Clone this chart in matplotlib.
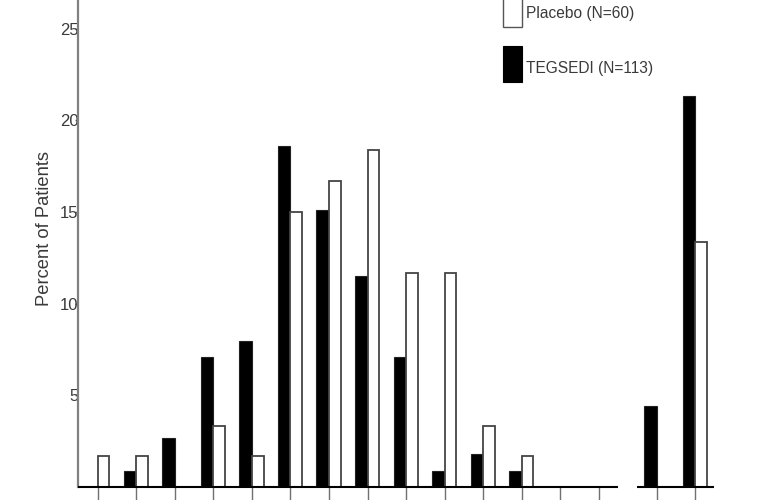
import numpy as np
import matplotlib
matplotlib.use("Agg")
import matplotlib.pyplot as plt
from matplotlib.patches import Rectangle

# ---- data (percent of patients) ----
tegsedi_main = [0.0, 0.88, 2.65, 7.08, 7.96, 18.6, 15.1, 11.5, 7.08, 0.88, 1.77, 0.88, 0.0, 0.0]
placebo_main = [1.67, 1.67, 0.0, 3.33, 1.67, 15.0, 16.7, 18.4, 11.67, 11.67, 3.33, 1.67, 0.0, 0.0]
tegsedi_extra = [4.42, 21.3]
placebo_extra = [0.0, 13.35]
y_ticks = [5, 10, 15, 20, 25]
series_labels = ["Placebo (N=60)", "TEGSEDI (N=113)"]
y_label = "Percent of Patients"

hfont, hsize = "Liberation Sans", 11.2
text_color = "#3a3a3a"
W, H = 768, 500

fig = plt.figure(figsize=(7.68, 5.0), dpi=100)
left_px, base_px = 78.4, 486.7
ax = fig.add_axes([left_px / W, (H - base_px) / H, 1 - left_px / W, base_px / H])

x_main = np.arange(len(tegsedi_main))
x_extra = len(tegsedi_main) + 0.5 + np.arange(len(tegsedi_extra))
xs = np.concatenate([x_main, x_extra])
teg = tegsedi_main + tegsedi_extra
pla = placebo_main + placebo_extra

w = 0.325
teg_style = dict(facecolor="black", edgecolor="#222222", linewidth=0.8)
pla_style = dict(facecolor="white", edgecolor="#444444", linewidth=1.3)
ax.bar(xs, teg, width=-w, align="edge", zorder=2, **teg_style)
ax.bar(xs, pla, width=w * 0.93, align="edge", zorder=2, **pla_style)

ax.set_xlim(-0.5, -0.5 + (W - left_px) / 38.55)
ax.set_ylim(0, base_px / 18.32)

# spines
for s in ["top", "right", "bottom"]:
    ax.spines[s].set_visible(False)
ax.spines["left"].set_color("#808080")
ax.spines["left"].set_linewidth(1.6)

# broken baseline
for seg in (x_main, x_extra):
    ax.plot([seg[0] - 0.5, seg[-1] + 0.5], [0, 0], color="black", lw=1.5,
            clip_on=False, zorder=3, solid_capstyle="butt")

# ticks
ax.set_xticks(xs)
ax.set_xticklabels([])
ax.tick_params(axis="x", direction="out", length=10, width=1.0, color="#707070")
ax.set_yticks(y_ticks)
ax.set_yticklabels([str(t) for t in y_ticks], fontfamily=hfont, fontsize=12, color=text_color)
ax.tick_params(axis="y", direction="out", length=2.5, width=1.0, color="#707070", pad=-2.5)

fig.text(44.5 / W, 1 - 229 / H, y_label, rotation=90, ha="center", va="center",
         fontfamily=hfont, fontsize=13.2, color=text_color)

# legend (drawn in figure pixel positions)
def fig_rect(x0, y0_top, wpx, hpx, style):
    r = Rectangle((x0 / W, 1 - (y0_top + hpx) / H), wpx / W, hpx / H,
                  transform=fig.transFigure, clip_on=False, **style)
    fig.add_artist(r)

fig_rect(502.5, -9, 19.5, 36, dict(facecolor="white", edgecolor="#555555", linewidth=1.0))
fig_rect(502.5, 45.7, 19.5, 36, dict(facecolor="black", edgecolor="black", linewidth=0.8))
fig.text(526 / W, 1 - 18.3 / H, series_labels[0], ha="left", va="baseline",
         fontfamily=hfont, fontsize=hsize, color=text_color)
fig.text(526 / W, 1 - 72.7 / H, series_labels[1], ha="left", va="baseline",
         fontfamily=hfont, fontsize=hsize, color=text_color)

fig.savefig("out.png", dpi=100)
